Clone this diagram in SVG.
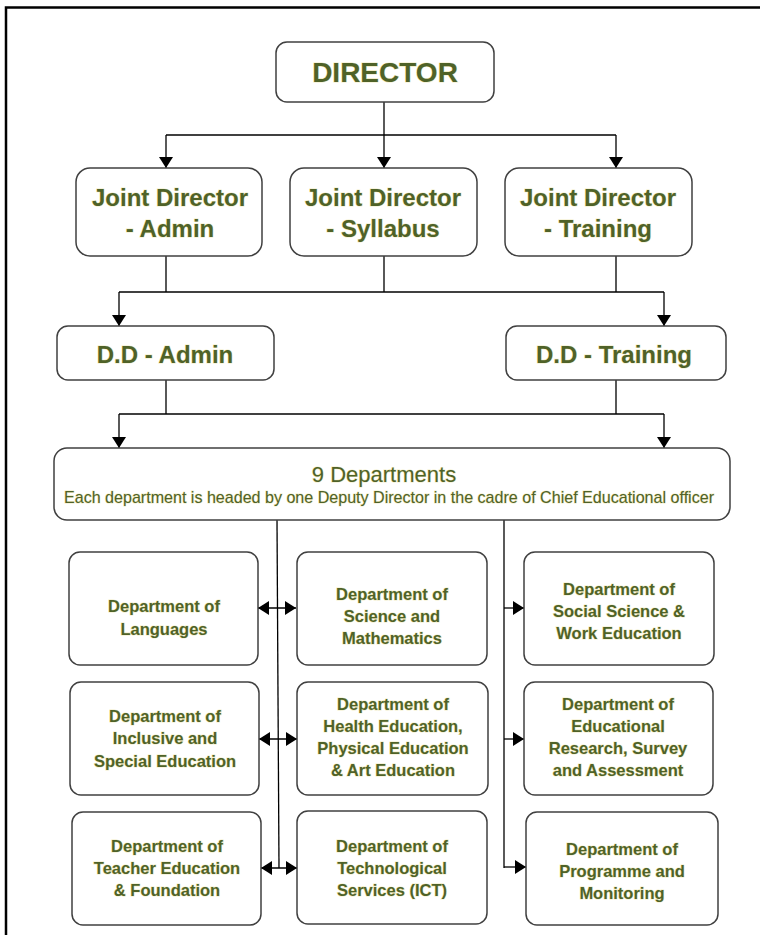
<svg xmlns="http://www.w3.org/2000/svg" width="760" height="935" viewBox="0 0 760 935">
<defs>
<marker id="ah" viewBox="0 0 10 10" refX="10" refY="5" markerWidth="10" markerHeight="10" markerUnits="userSpaceOnUse" orient="auto-start-reverse">
<path d="M0,0 L10,5 L0,10 Z" fill="#000"/>
</marker>
<marker id="ahd" viewBox="0 0 10 10" refX="10" refY="5" markerWidth="11" markerHeight="14" markerUnits="userSpaceOnUse" orient="auto" preserveAspectRatio="none">
<path d="M0,0 L10,5 L0,10 Z" fill="#000"/>
</marker>
<marker id="ahs" viewBox="0 0 10 10" refX="0" refY="5" markerWidth="11" markerHeight="14" markerUnits="userSpaceOnUse" orient="auto" preserveAspectRatio="none">
<path d="M10,0 L0,5 L10,10 Z" fill="#000"/>
</marker>
</defs>
<style>
.box{fill:#fff;stroke:#404040;stroke-width:1.5}
.t{font-family:"Liberation Sans",Arial,sans-serif;fill:#4F6228;text-anchor:middle;stroke:#e6dc8c;stroke-width:1.2;stroke-opacity:.55;paint-order:stroke}
.big{font-size:28px;font-weight:bold}
.h{font-size:24px;font-weight:bold}
.d{font-size:16.5px;font-weight:bold}
.c{fill:none;stroke:#000;stroke-width:1.3}
</style>
<rect width="760" height="935" fill="#fff"/>
<g id="frame"><path d="M6,935 V7.5 H760" fill="none" stroke="#000" stroke-width="2.5"/></g>

<g id="connectors">
<path class="c" d="M384,102 V135"/>
<path class="c" d="M166,135 H616"/>
<path class="c" d="M166,135 V168" marker-end="url(#ahd)"/>
<path class="c" d="M384,135 V168" marker-end="url(#ahd)"/>
<path class="c" d="M616,135 V168" marker-end="url(#ahd)"/>
<path class="c" d="M166,256 V292 M384,256 V292 M616,256 V292"/>
<path class="c" d="M119,292 H664"/>
<path class="c" d="M119,292 V326" marker-end="url(#ahd)"/>
<path class="c" d="M664,292 V326" marker-end="url(#ahd)"/>
<path class="c" d="M166,380 V414 M616,380 V414"/>
<path class="c" d="M119,414 H664"/>
<path class="c" d="M119,414 V448" marker-end="url(#ahd)"/>
<path class="c" d="M664,414 V448" marker-end="url(#ahd)"/>
<path class="c" d="M277,520 L279,868"/>
<path class="c" d="M504,520 V868"/>
<path class="c" d="M258,608 H296" marker-start="url(#ahs)" marker-end="url(#ahd)"/>
<path class="c" d="M259,739 H297" marker-start="url(#ahs)" marker-end="url(#ahd)"/>
<path class="c" d="M261,868 H297" marker-start="url(#ahs)" marker-end="url(#ahd)"/>
<path class="c" d="M504,608 H524" marker-end="url(#ahd)"/>
<path class="c" d="M504,739 H524" marker-end="url(#ahd)"/>
<path class="c" d="M504,867 H526" marker-end="url(#ahd)"/>
</g>

<g id="director">
<rect class="box" x="276" y="42" width="218" height="60" rx="11"/>
<text class="t big" x="385" y="82">DIRECTOR</text>
</g>
<g id="jd-admin">
<rect class="box" x="76" y="168" width="186" height="88" rx="14"/>
<text class="t h" x="170" y="206">Joint Director</text>
<text class="t h" x="170" y="237">- Admin</text>
</g>
<g id="jd-syllabus">
<rect class="box" x="290" y="168" width="187" height="88" rx="14"/>
<text class="t h" x="383" y="206">Joint Director</text>
<text class="t h" x="383" y="237">- Syllabus</text>
</g>
<g id="jd-training">
<rect class="box" x="505" y="168" width="187" height="88" rx="14"/>
<text class="t h" x="598" y="206">Joint Director</text>
<text class="t h" x="598" y="237">- Training</text>
</g>
<g id="dd-admin">
<rect class="box" x="57" y="326" width="217" height="54" rx="11"/>
<text class="t h" x="165" y="363">D.D - Admin</text>
</g>
<g id="dd-training">
<rect class="box" x="506" y="326" width="220" height="54" rx="11"/>
<text class="t h" x="614" y="363">D.D - Training</text>
</g>
<g id="departments">
<rect class="box" x="54" y="448" width="676" height="72" rx="13"/>
<text class="t" x="384" y="482" font-size="22">9 Departments</text>
<text class="t" x="389" y="503" font-size="17" textLength="650" lengthAdjust="spacingAndGlyphs">Each department is headed by one Deputy Director in the cadre of Chief Educational officer</text>
</g>

<g id="dept-languages">
<rect class="box" x="69" y="552" width="189" height="113" rx="11"/>
<text class="t d" x="164" y="612">Department of</text>
<text class="t d" x="164" y="635">Languages</text>
</g>
<g id="dept-science">
<rect class="box" x="297" y="552" width="190" height="113" rx="11"/>
<text class="t d" x="392" y="600">Department of</text>
<text class="t d" x="392" y="622">Science and</text>
<text class="t d" x="392" y="644">Mathematics</text>
</g>
<g id="dept-social">
<rect class="box" x="524" y="552" width="190" height="113" rx="11"/>
<text class="t d" x="619" y="595">Department of</text>
<text class="t d" x="619" y="617">Social Science &amp;</text>
<text class="t d" x="619" y="639">Work Education</text>
</g>
<g id="dept-inclusive">
<rect class="box" x="70" y="682" width="189" height="113" rx="11"/>
<text class="t d" x="165" y="722">Department of</text>
<text class="t d" x="165" y="744">Inclusive and</text>
<text class="t d" x="165" y="767">Special Education</text>
</g>
<g id="dept-health">
<rect class="box" x="297" y="682" width="191" height="113" rx="11"/>
<text class="t d" x="393" y="710">Department of</text>
<text class="t d" x="393" y="732">Health Education,</text>
<text class="t d" x="393" y="754">Physical Education</text>
<text class="t d" x="393" y="776">&amp; Art Education</text>
</g>
<g id="dept-research">
<rect class="box" x="524" y="682" width="189" height="113" rx="11"/>
<text class="t d" x="618" y="710">Department of</text>
<text class="t d" x="618" y="732">Educational</text>
<text class="t d" x="618" y="754">Research, Survey</text>
<text class="t d" x="618" y="776">and Assessment</text>
</g>
<g id="dept-teacher">
<rect class="box" x="72" y="812" width="189" height="113" rx="11"/>
<text class="t d" x="167" y="852">Department of</text>
<text class="t d" x="167" y="874">Teacher Education</text>
<text class="t d" x="167" y="896">&amp; Foundation</text>
</g>
<g id="dept-ict">
<rect class="box" x="297" y="811" width="190" height="113" rx="11"/>
<text class="t d" x="392" y="852">Department of</text>
<text class="t d" x="392" y="874">Technological</text>
<text class="t d" x="392" y="896">Services (ICT)</text>
</g>
<g id="dept-programme">
<rect class="box" x="526" y="812" width="192" height="113" rx="11"/>
<text class="t d" x="622" y="855">Department of</text>
<text class="t d" x="622" y="877">Programme and</text>
<text class="t d" x="622" y="899">Monitoring</text>
</g>
</svg>
